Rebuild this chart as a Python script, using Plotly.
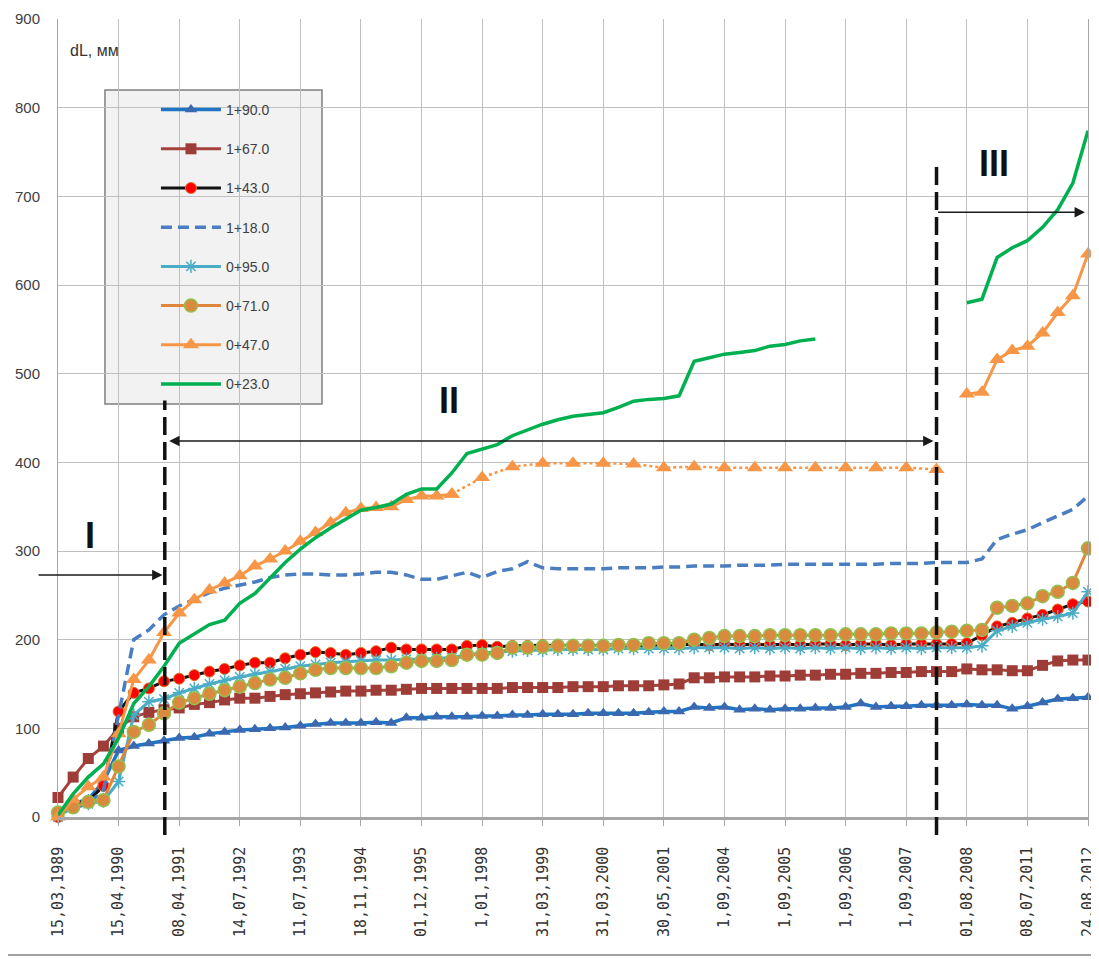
import plotly.graph_objects as go

N = 69
idx = list(range(N))

tick_pos = list(range(0, N, 4))
tick_labels = ["15,03,1989", "15,04,1990", "08,04,1991", "14,07,1992", "11,07,1993",
               "18,11,1994", "01,12,1995", "1,01,1998", "31,03,1999", "31,03,2000",
               "30,05,2001", "1,09,2004", "1,09,2005", "1,09,2006", "1,09,2007",
               "01,08,2008", "08,07,2011", "24,08,2012"]

s_190 = [3, 15, 20, 40, 75, 80, 83, 86, 89, 90, 94, 96, 98, 99, 100, 101, 103, 105, 106, 106,
         106, 107, 106, 112, 112, 113, 113, 113, 114, 114, 115, 115, 116, 116, 116, 117, 117, 117, 117, 118,
         119, 119, 124, 123, 124, 121, 122, 121, 122, 122, 123, 123, 124, 128, 124, 125, 125, 126, 126, 126,
         127, 126, 126, 122, 125, 129, 133, 134, 135]
s_167 = [22, 45, 66, 80, 100, 113, 118, 121, 123, 127, 129, 132, 134, 134, 136, 138, 139, 140, 141, 142,
         142, 143, 143, 144, 145, 145, 145, 145, 145, 145, 146, 146, 146, 146, 147, 147, 147, 148, 148, 148,
         149, 150, 157, 157, 158, 158, 158, 159, 159, 160, 160, 161, 161, 162, 162, 163, 163, 164, 164, 164,
         167, 166, 166, 165, 165, 171, 176, 177, 177]
s_143 = [0, 15, 18, 35, 119, 140, 145, 153, 156, 160, 164, 167, 171, 174, 174, 179, 183, 186, 185, 183,
         185, 187, 191, 189, 189, 189, 189, 193, 194, 192, 193, 193, 194, 193, 194, 193, 194, 194, 193, 194,
         194, 194, 195, 194, 195, 194, 195, 194, 195, 194, 195, 195, 194, 195, 195, 194, 195, 195, 195, 195,
         196, 205, 215, 219, 224, 228, 234, 240, 243]
s_118 = [3, 10, 15, 30, 115, 200, 211, 228, 238, 246, 253, 258, 261, 265, 270, 273, 274, 274, 273, 273,
         274, 276, 276, 273, 268, 268, 272, 276, 270, 277, 280, 288, 281, 280, 280, 280, 280, 281, 281, 281,
         282, 282, 283, 283, 283, 284, 284, 284, 285, 285, 285, 285, 285, 285, 285, 286, 286, 286, 287, 287,
         287, 291, 313, 319, 324, 332, 339, 347, 362]
s_095 = [0, 12, 15, 18, 40, 115, 130, 133, 140, 145, 150, 154, 158, 161, 164, 167, 170, 172, 174, 175,
         176, 177, 177, 178, 178, 179, 180, 183, 185, 186, 187, 188, 188, 189, 189, 189, 189, 190, 190, 190,
         190, 190, 191, 191, 191, 190, 191, 190, 191, 190, 191, 190, 191, 190, 191, 190, 191, 190, 191, 191,
         191, 193, 210, 215, 219, 223, 226, 230, 254]
s_071 = [5, 11, 17, 19, 57, 96, 104, 117, 129, 134, 139, 143, 147, 151, 155, 157, 162, 166, 168, 168,
         168, 168, 170, 174, 176, 176, 177, 183, 183, 185, 191, 191, 192, 193, 193, 193, 193, 194, 194, 196,
         196, 196, 200, 202, 204, 204, 204, 205, 205, 205, 205, 205, 206, 206, 206, 207, 207, 207, 208, 209,
         210, 211, 236, 238, 241, 249, 254, 264, 303]
s_047 = [0, 20, 34, 45, 94, 155, 177, 208, 230, 245, 256, 264, 272, 283, 291, 300, 311, 321, 332, 343,
         348, 349, 350, 358, 362, 362, 364] + [None] * 33 + [477, 479, 516, 526, 531, 546, 569, 588, 635]
s_047_dotted = [None] * 26 + [364, None, 383, None, 395, None, 399, None, 399, None, 399, None, 398, None,
                              394, None, 395, None, 394, None, 394, None, 394, None, 394, None, 394, None,
                              394, None, 394, None, 392] + [None] * 10
s_023 = [2, 26, 45, 60, 89, 128, 147, 170, 196, 207, 217, 222, 241, 252, 270, 287, 302, 315, 326, 336,
         346, 349, 353, 364, 370, 370, 388, 410, 415, 420, 430, 437, 443, 448, 452, 454, 456, 462, 469, 471,
         472, 475, 514, 518, 522, 524, 526, 531, 533, 537, 539] + [None] * 9 + [580, 584, 631, 642, 650, 665,
                                                                             685, 715, 774]

SANS = "Liberation Sans, Arial, sans-serif"

fig = go.Figure()

fig.add_trace(go.Scatter(x=idx, y=s_190, name="1+90.0", mode="lines+markers", legendgroup="g1",
                         line=dict(color="#1F75C4", width=3.5),
                         marker=dict(symbol="triangle-up", size=11, color="#3B68AF"), cliponaxis=False))
fig.add_trace(go.Scatter(x=idx, y=s_167, name="1+67.0", mode="lines+markers", legendgroup="g2",
                         line=dict(color="#A5423C", width=3),
                         marker=dict(symbol="square", size=11, color="#9E3D38"), cliponaxis=False))
fig.add_trace(go.Scatter(x=idx, y=s_143, name="1+43.0", mode="lines+markers", legendgroup="g3",
                         line=dict(color="#111111", width=3),
                         marker=dict(symbol="circle", size=11, color="#FF0000",
                                     line=dict(color="#E07020", width=1)), cliponaxis=False))
fig.add_trace(go.Scatter(x=idx, y=s_118, name="1+18.0", mode="lines", legendgroup="g4",
                         line=dict(color="#4A7EC0", width=3.5, dash="11px,6px"), cliponaxis=False))
fig.add_trace(go.Scatter(x=idx, y=s_095, name="0+95.0", mode="lines+markers", legendgroup="g5",
                         line=dict(color="#4BACC6", width=3),
                         marker=dict(symbol="asterisk-open", size=11,
                                     line=dict(color="#1FB5EE", width=1.5)), cliponaxis=False))
fig.add_trace(go.Scatter(x=idx, y=s_071, name="0+71.0", mode="lines+markers", legendgroup="g6",
                         line=dict(color="#E0863B", width=3),
                         marker=dict(symbol="circle", size=13, color="#D98A3E",
                                     line=dict(color="#92C050", width=1.5)), cliponaxis=False))
fig.add_trace(go.Scatter(x=idx, y=s_047, name="0+47.0", mode="lines+markers", legendgroup="g7",
                         line=dict(color="#F79646", width=3),
                         marker=dict(symbol="triangle-up", size=14, color="#F79646"), cliponaxis=False))
fig.add_trace(go.Scatter(x=idx, y=s_047_dotted, name="0+47.0", mode="lines+markers", legendgroup="g7",
                         showlegend=False, connectgaps=True,
                         line=dict(color="#F79646", width=2.5, dash="dot"),
                         marker=dict(symbol="triangle-up", size=14, color="#F79646"), cliponaxis=False))
fig.add_trace(go.Scatter(x=idx, y=s_023, name="0+23.0", mode="lines", legendgroup="g8",
                         line=dict(color="#00B050", width=3.5), cliponaxis=False))

# the page adds an 8px body margin, so the figure is offset and sized to fit the window
fig.update_layout(
    width=1091, height=951,
    margin=dict(l=50, r=11, t=11, b=142),
    paper_bgcolor="white", plot_bgcolor="white",
    showlegend=True,
    legend=dict(x=0.0951, xanchor="left", y=0.906, yanchor="top",
                bgcolor="rgba(0,0,0,0)", borderwidth=0,
                font=dict(family=SANS, size=14, color="#404040"),
                itemwidth=60, tracegroupgap=18),
    xaxis=dict(range=[0, N - 1], tickmode="array", tickvals=tick_pos, ticktext=tick_labels,
               tickangle=-90, showgrid=True, gridcolor="#BFBFBF", gridwidth=1,
               showline=True, linecolor="#A6A6A6", linewidth=2.5,
               ticks="outside", ticklen=6, tickcolor="#A6A6A6",
               tickfont=dict(family="DejaVu Sans Mono", size=15, color="#333333"),
               ticklabelstandoff=15, ticklabeloverflow="allow",
               zeroline=False, automargin=False),
    yaxis=dict(range=[0, 900], dtick=100, showgrid=True, gridcolor="#BFBFBF", gridwidth=1,
               showline=True, mirror=True, linecolor="#A6A6A6", linewidth=1, ticks="",
               tickfont=dict(family=SANS, size=15, color="#404040"),
               ticklabelstandoff=14, zeroline=False, automargin=False),
)

shapes = [
    dict(type="rect", xref="paper", yref="paper", x0=0.0456, x1=0.2563, y0=0.5175, y1=0.911,
         fillcolor="#F2F2F2", line=dict(color="#7F7F7F", width=1.5), layer="between"),
    dict(type="line", xref="x", yref="paper", x0=7.05, x1=7.05, y0=-0.0226, y1=0.522,
         line=dict(color="#111111", width=3.5, dash="18px,7px"), layer="above"),
    dict(type="line", xref="x", yref="paper", x0=58.0, x1=58.0, y0=-0.0226, y1=0.8208,
         line=dict(color="#111111", width=3.5, dash="18px,7px"), layer="above"),
    dict(type="line", xref="paper", yref="paper", x0=-0.0515, x1=1.0107, y0=-0.173, y1=-0.173,
         line=dict(color="#A0A0A0", width=2), layer="above"),
]
fig.update_layout(shapes=shapes)

ROMAN = dict(family=SANS, size=36, color="#111111", weight="bold")
ann = [
    dict(text="dL, мм", xref="paper", yref="paper", x=0.0097, y=0.96, xanchor="left", yanchor="middle",
         showarrow=False, font=dict(family=SANS, size=16, color="#333333")),
    dict(text="I", xref="x", yref="y", x=2.1, y=318, showarrow=False, font=ROMAN),
    dict(text="II", xref="x", yref="y", x=25.8, y=470, showarrow=False, font=ROMAN),
    dict(text="III", xref="x", yref="y", x=61.8, y=737, showarrow=False, font=ROMAN),
    dict(text="", x=6.9, y=273, ax=-1.38, ay=273, xref="x", yref="y", axref="x", ayref="y",
         showarrow=True, arrowhead=2, arrowsize=1.3, arrowwidth=1.6, arrowcolor="#1a1a1a"),
    dict(text="", x=57.8, y=424, ax=7.24, ay=424, xref="x", yref="y", axref="x", ayref="y",
         showarrow=True, arrowhead=2, startarrowhead=2, arrowside="end+start",
         arrowsize=1.3, startarrowsize=1.3, arrowwidth=1.6, arrowcolor="#1a1a1a"),
    dict(text="", x=67.8, y=682, ax=58.0, ay=682, xref="x", yref="y", axref="x", ayref="y",
         showarrow=True, arrowhead=2, arrowsize=1.3, arrowwidth=1.6, arrowcolor="#1a1a1a"),
]
fig.update_layout(annotations=ann)

fig.write_html("out.html")
